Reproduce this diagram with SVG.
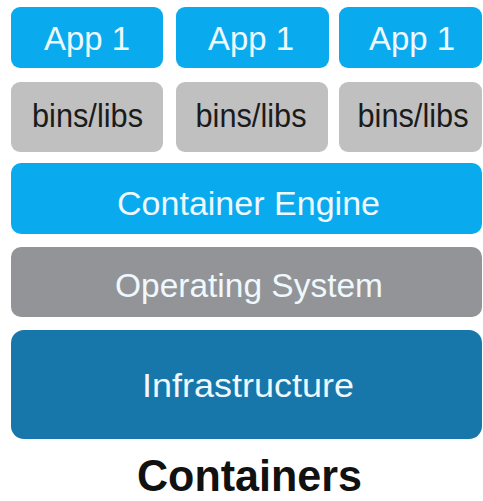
<svg xmlns="http://www.w3.org/2000/svg" width="483" height="501" viewBox="0 0 483 501">
  <style>
    .lbl { font-family: "Liberation Sans", Arial, sans-serif; font-size: 34px; text-anchor: middle; }
    .light { fill: #eef8fd; }
    .dark { fill: #1b1b1b; }
    .app { fill: #0aaaef; }
    .bins { fill: #c0c0c0; }
    .engine { fill: #0aaaef; }
    .os { fill: #939497; }
    .infra { fill: #1776aa; }
    .title { font-family: "Liberation Sans", Arial, sans-serif; font-weight: bold; font-size: 44px; text-anchor: middle; fill: #111; }
  </style>
  <rect width="483" height="501" fill="#ffffff"/>

  <!-- application layer -->
  <g id="app1">
    <rect class="app" x="11" y="7" width="152" height="61" rx="9"/>
    <text class="lbl light" x="87" y="50" textLength="86" lengthAdjust="spacingAndGlyphs">App 1</text>
  </g>
  <g id="app2">
    <rect class="app" x="176" y="7" width="153" height="61" rx="9"/>
    <text class="lbl light" x="251" y="50" textLength="86" lengthAdjust="spacingAndGlyphs">App 1</text>
  </g>
  <g id="app3">
    <rect class="app" x="339" y="7" width="143" height="61" rx="9"/>
    <text class="lbl light" x="412" y="50" textLength="86" lengthAdjust="spacingAndGlyphs">App 1</text>
  </g>

  <!-- per-app binaries and libraries -->
  <g id="bins1">
    <rect class="bins" x="11" y="82" width="152" height="70" rx="9"/>
    <text class="lbl dark" x="87.5" y="127" textLength="111" lengthAdjust="spacingAndGlyphs">bins/libs</text>
  </g>
  <g id="bins2">
    <rect class="bins" x="176" y="82" width="152" height="70" rx="9"/>
    <text class="lbl dark" x="251" y="127" textLength="111" lengthAdjust="spacingAndGlyphs">bins/libs</text>
  </g>
  <g id="bins3">
    <rect class="bins" x="339" y="82" width="143" height="70" rx="9"/>
    <text class="lbl dark" x="413" y="127" textLength="111" lengthAdjust="spacingAndGlyphs">bins/libs</text>
  </g>

  <!-- shared layers -->
  <g id="engine">
    <rect class="engine" x="11" y="163" width="471" height="71" rx="10"/>
    <text class="lbl light" x="248.5" y="215" textLength="263" lengthAdjust="spacingAndGlyphs">Container Engine</text>
  </g>
  <g id="os">
    <rect class="os" x="11" y="247" width="471" height="70" rx="10"/>
    <text class="lbl light" x="249" y="297" textLength="268" lengthAdjust="spacingAndGlyphs">Operating System</text>
  </g>
  <g id="infrastructure">
    <rect class="infra" x="11" y="330" width="471" height="109" rx="13"/>
    <text class="lbl light" x="248" y="397" textLength="212" lengthAdjust="spacingAndGlyphs">Infrastructure</text>
  </g>

  <g id="connectors"/>

  <text class="title" x="249.5" y="491" textLength="225" lengthAdjust="spacingAndGlyphs">Containers</text>
</svg>
